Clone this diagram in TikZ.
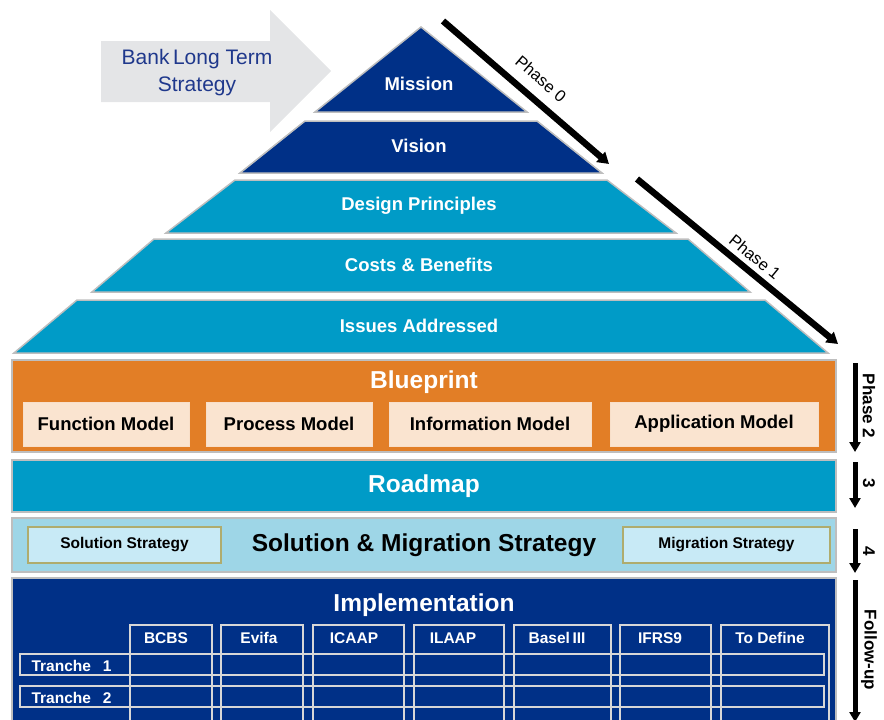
\documentclass[tikz,border=0pt]{standalone}
\usepackage{fontspec}
\setmainfont{Liberation Sans}
\usetikzlibrary{arrows.meta}
\definecolor{navy}{RGB}{0,48,135}
\definecolor{teal}{RGB}{0,155,199}
\definecolor{orng}{RGB}{226,126,38}
\definecolor{beige}{RGB}{250,228,208}
\definecolor{lblue}{RGB}{158,214,231}
\definecolor{pblue}{RGB}{200,234,246}
\definecolor{olive}{RGB}{175,172,110}
\definecolor{bankgray}{RGB}{228,229,231}
\definecolor{banktext}{RGB}{31,56,140}
\definecolor{bordergray}{RGB}{190,190,190}
\definecolor{tablegray}{RGB}{215,215,215}
\newcommand{\fs}[1]{\fontsize{#1}{#1}\selectfont}
\begin{document}
\begin{tikzpicture}[x=1pt,y=-1pt,
  layer/.style={draw=bordergray,line width=1.5pt},
  laylabel/.style={text=white,font=\fs{18.5}\bfseries},
  bigbox/.style={draw=bordergray,line width=2pt,rectangle,inner sep=0pt,minimum width=824pt},
  title/.style={font=\fs{24.5}\bfseries},
  subbox/.style={rectangle,inner sep=0pt,minimum height=44pt,fill=beige,draw=white!75!orng,line width=1pt,font=\fs{18.5}\bfseries},
  stratbox/.style={rectangle,inner sep=0pt,minimum height=36pt,fill=pblue,draw=olive,line width=1.5pt,font=\fs{15.5}\bfseries},
  cell/.style={rectangle,inner sep=0pt,draw=tablegray,line width=1.5pt},
  colhead/.style={text=white,font=\fs{15.5}\bfseries},
  rowhead/.style={text=white,font=\fs{15.5}\bfseries,anchor=west},
  phasearrow/.style={line width=6.5pt,-{Triangle[length=11pt,width=13pt]}},
  vertarrow/.style={line width=5pt,-{Triangle[length=10pt,width=11pt]}},
  phaselabel/.style={font=\fs{16.5},inner sep=1pt},
  sidelabel/.style={font=\fs{17}\bfseries,rotate=-90}
]
\useasboundingbox (0,0) rectangle (884,720);
\clip (0,0) rectangle (884,720);

% Bank long term strategy arrow
\fill[bankgray] (101,41) -- (270,41) -- (270,10) -- (331,71) -- (270,132) -- (270,102) -- (101,102) -- cycle;
\node[text=banktext,font=\fs{21},align=center] (bank) at (197,73) {Bank\,Long Term\\[6pt]Strategy};

% Pyramid layers (cx = 421)
\path[layer,fill=navy] (421,27) -- (527,112) -- (315,112) -- cycle;
\path[layer,fill=navy] (305,121) -- (537,121) -- (602,173) -- (240,173) -- cycle;
\path[layer,fill=teal] (235,180) -- (607,180) -- (676,233) -- (166,233) -- cycle;
\path[layer,fill=teal] (154,239) -- (688,239) -- (750,292) -- (92,292) -- cycle;
\path[layer,fill=teal] (77,300) -- (765,300) -- (828,353) -- (14,353) -- cycle;
\node[laylabel] (mission) at (419,84) {Mission};
\node[laylabel] (vision) at (419,146) {Vision};
\node[laylabel] (design) at (419,206) {Design Principles};
\node[laylabel] (costs) at (419,265) {Costs \& Benefits};
\node[laylabel] (issues) at (419,326) {Issues Addressed};

% Phase arrows along the pyramid
\coordinate (p0s) at (443,21);
\coordinate (p0e) at (609,164);
\coordinate (p1s) at (637,179);
\coordinate (p1e) at (838,344);
\draw[phasearrow] (p0s) -- (p0e);
\draw[phasearrow] (p1s) -- (p1e);
\node[phaselabel,rotate=-40.5] (ph0) at (541,79) {Phase 0};
\node[phaselabel,rotate=-39.5] (ph1) at (755,257) {Phase 1};

% Blueprint
\node[bigbox,fill=orng,minimum height=92pt] (bp) at (424,406) {};
\node[title,text=white] (bpt) at (424,382) {Blueprint};
\node[subbox,minimum width=166pt] (fm) at (106,424) {Function Model};
\node[subbox,minimum width=166pt] (pm) at (289,424) {Process Model};
\node[subbox,minimum width=202pt] (im) at (490,424) {Information Model};
\node[subbox,minimum width=208pt] (am) at (714,424) {Application Model};

% Roadmap
\node[bigbox,fill=teal,minimum height=52pt,title,text=white] (rm) at (424,486) {Roadmap};

% Solution & Migration
\node[bigbox,fill=lblue,minimum height=54pt] (sm) at (424,545) {};
\node[title] (smt) at (424,545) {Solution \& Migration Strategy};
\node[stratbox,minimum width=193pt] (ss) at (124.5,545) {Solution Strategy};
\node[stratbox,minimum width=207pt] (ms) at (726.5,545) {Migration Strategy};

% Implementation
\node[bigbox,fill=navy,minimum height=152pt] (impl) at (424,654) {};
\node[title,text=white] (implt) at (424,605) {Implementation};
\node[cell,minimum width=82pt,minimum height=110pt] (c1) at (171,680) {};
\node[cell,minimum width=82pt,minimum height=110pt] (c2) at (262,680) {};
\node[cell,minimum width=91pt,minimum height=110pt] (c3) at (358.5,680) {};
\node[cell,minimum width=90pt,minimum height=110pt] (c4) at (459,680) {};
\node[cell,minimum width=97pt,minimum height=110pt] (c5) at (562.5,680) {};
\node[cell,minimum width=91pt,minimum height=110pt] (c6) at (665.5,680) {};
\node[cell,minimum width=108pt,minimum height=110pt] (c7) at (775,680) {};
\node[cell,minimum width=804pt,minimum height=21pt] (t1) at (422,664.5) {};
\node[cell,minimum width=804pt,minimum height=21pt] (t2) at (422,696.5) {};
\node[colhead] (h1) at (166,638) {BCBS};
\node[colhead] (h2) at (259,638) {Evifa};
\node[colhead] (h3) at (354,638) {ICAAP};
\node[colhead] (h4) at (453,638) {ILAAP};
\node[colhead] (h5) at (557,638) {Basel\,III};
\node[colhead] (h6) at (660,638) {IFRS9};
\node[colhead] (h7) at (770,638) {To Define};
\node[rowhead] (r1) at (28,665.5) {Tranche\hspace{12pt}1};
\node[rowhead] (r2) at (28,697.5) {Tranche\hspace{12pt}2};

% Right-side phase arrows
\coordinate (a2s) at (855,363);
\coordinate (a2e) at (855,452);
\coordinate (a3s) at (855,462);
\coordinate (a3e) at (855,508);
\coordinate (a4s) at (855,529);
\coordinate (a4e) at (855,573);
\coordinate (a5s) at (855,580);
\coordinate (a5e) at (855,722);
\draw[vertarrow] (a2s) -- (a2e);
\draw[vertarrow] (a3s) -- (a3e);
\draw[vertarrow] (a4s) -- (a4e);
\draw[vertarrow] (a5s) -- (a5e);
\node[sidelabel] (l2) at (869,406) {Phase 2};
\node[sidelabel] (l3) at (869,483) {3};
\node[sidelabel] (l4) at (869,551) {4};
\node[sidelabel] (l5) at (869,650) {Follow-up};
\end{tikzpicture}
\end{document}
